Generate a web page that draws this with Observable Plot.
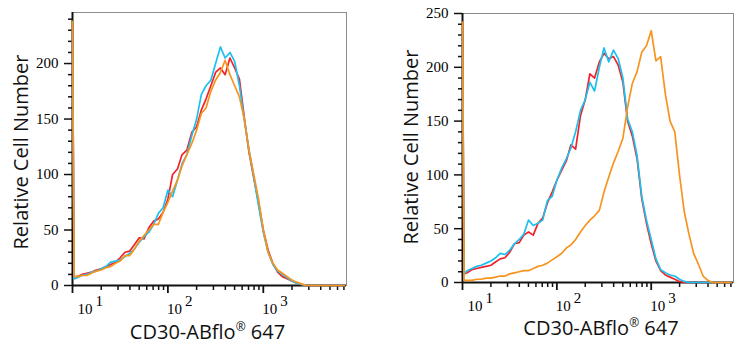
<!DOCTYPE html>
<html><head><meta charset="utf-8">
<script src="https://cdn.jsdelivr.net/npm/d3@7"></script>
<script src="https://cdn.jsdelivr.net/npm/@observablehq/plot@0.6"></script>
<style>
body{margin:0;background:#fff;}
#wrap{display:flex;width:745px;height:350px;overflow:hidden;}
svg{overflow:visible;}
</style></head><body><div id="wrap"></div>
<script>
// Fluorescence bins (x values, log scale)
const bins = [10, 10.4, 11.2, 12.6, 14.1, 15.8, 17.8, 20, 22.4, 25.1, 28.2, 31.6, 35.5, 39.8, 44.7, 50.1, 56.2, 63.1, 70.8, 79.4, 89.1,
  100, 112, 126, 141, 158, 178, 200, 224, 251, 282, 316, 355, 398, 447, 501, 562, 631, 708, 794, 891,
  1000, 1122, 1259, 1413, 1585, 1778, 1995, 2239, 2512, 2818, 3162, 3548, 3981, 4467, 5012, 5623, 6310, 7079];

// Left panel counts
const leftRed = [230, 8, 8, 10, 11, 12, 14, 15, 17, 19, 21, 25, 30, 31, 37, 43, 42, 52, 58, 60, 66,
  78, 100, 105, 118, 122, 138, 143, 158, 168, 180, 192, 196, 190, 205, 196, 186, 152, 120, 97, 75,
  50, 32, 20, 12, 8, 6, 4, 2, 1, 0, 0, 0, 0, 0, 0, 0, 0, 0];
const leftBlue = [230, 6, 7, 9, 10, 12, 13, 15, 17, 21, 22, 23, 26, 29, 33, 39, 44, 48, 55, 65, 70,
  86, 80, 95, 110, 118, 135, 150, 172, 180, 185, 200, 215, 205, 210, 202, 180, 150, 122, 98, 72,
  48, 30, 19, 13, 10, 7, 4, 2, 1, 0, 0, 0, 0, 0, 0, 0, 0, 0];
const leftOrange = [238, 8, 8, 9, 9, 11, 13, 14, 16, 17, 20, 22, 27, 27, 33, 40, 45, 50, 55, 55, 66,
  75, 85, 95, 108, 118, 128, 140, 155, 160, 175, 185, 192, 203, 190, 180, 170, 150, 122, 100, 78,
  50, 30, 20, 14, 11, 8, 5, 3, 1.5, 0, 0, 0, 0, 0, 0, 0, 0, 0];

// Right panel counts
const rightRed = [230, 8, 9, 12, 13, 14, 15, 16, 19, 22, 23, 28, 36, 37, 44, 47, 44, 55, 60, 74, 84,
  95, 104, 113, 128, 124, 155, 170, 194, 190, 205, 213, 208, 210, 202, 186, 150, 136, 115, 78, 55,
  36, 20, 11, 7, 5, 3, 1, 0, 0, 0, 0, 0, 0, 0, 0, 0, 0, 0];
const rightBlue = [230, 8, 11, 13, 15, 16, 18, 20, 23, 27, 26, 30, 36, 40, 45, 58, 53, 55, 58, 76, 80,
  95, 106, 115, 125, 140, 160, 170, 186, 178, 200, 218, 205, 216, 208, 190, 152, 140, 118, 80, 58,
  40, 22, 12, 9, 7, 6, 3, 1, 0, 0, 0, 0, 0, 0, 0, 0, 0, 0];
const rightOrange = [242, 2, 2, 2, 3, 3, 4, 4, 5, 6, 6, 8, 9, 10, 11, 11, 13, 15, 16, 18, 21,
  24, 27, 32, 35, 40, 47, 53, 58, 62, 67, 84, 98, 111, 122, 134, 163, 185, 196, 214, 220,
  234, 206, 210, 175, 150, 140, 100, 66, 45, 27, 17, 6, 2, 0, 0, 0, 0, 0];

const seriesNames = ["Red", "Blue", "Orange"];
const seriesColors = ["#f2222b", "#1cc0ef", "#f7941e"];

const xMajor = [10, 100, 1000];
const xExponents = ["1", "2", "3"];
const xMinor = [20, 30, 40, 50, 60, 70, 80, 90, 200, 300, 400, 500, 600, 700, 800, 900, 2000, 3000, 4000, 5000, 6000, 7000];
const yMajorLeft = [0, 50, 100, 150, 200];
const yMinorLeft = [10, 20, 30, 40, 60, 70, 80, 90, 110, 120, 130, 140, 160, 170, 180, 190, 210, 220, 230, 240];
const yMajorRight = [0, 50, 100, 150, 200, 250];
const yMinorRight = [10, 20, 30, 40, 60, 70, 80, 90, 110, 120, 130, 140, 160, 170, 180, 190, 210, 220, 230, 240];

const xTitle = "CD30-ABflo® 647";
const yTitle = "Relative Cell Number";

const SERIF = "'Liberation Serif', Tinos, 'Times New Roman', 'DejaVu Serif', serif";
const SANS = "'Open Sans', 'Noto Sans', 'DejaVu Sans', sans-serif";

function rows(vals) { return bins.map((b, i) => ({x: b, y: vals[i]})); }

function panel(o) {
  const labels = xMajor.map((v, i) => ({v, e: xExponents[i]}));
  const first = labels.slice(0, 1), rest = labels.slice(1);
  const lab = (data, dx) => [
    Plot.text(data, {x: "v", frameAnchor: "bottom", text: () => "10", textAnchor: "start", lineAnchor: "bottom", dx: dx, dy: 28, fontFamily: SERIF, fontSize: 15, fill: "#000"}),
    Plot.text(data, {x: "v", frameAnchor: "bottom", text: "e", textAnchor: "start", lineAnchor: "bottom", dx: dx + 18, dy: 20, fontFamily: SERIF, fontSize: 15, fill: "#000"})
  ];
  const svg = Plot.plot({
    width: o.width, height: 350,
    marginLeft: o.ml, marginRight: o.mr, marginTop: o.mt, marginBottom: o.mb,
    x: {type: "log", domain: [10, 7450], axis: null},
    y: {domain: [0, o.yMax], axis: null},
    style: {fontFamily: SERIF, fontSize: "15px", background: "white", color: "#000"},
    marks: [
      Plot.frame({stroke: "#8c8c8c", strokeWidth: 1}),
      Plot.axisY(o.yMinor, {tickSize: 4, tickFormat: () => "", label: null, stroke: "#111", strokeWidth: 1.5}),
      Plot.axisY(o.yMajor, {tickSize: 8, tickPadding: 6, label: null, stroke: "#111", strokeWidth: 1.5, fontSize: 15, fontFamily: SERIF, fill: "#000"}),
      Plot.axisX(xMinor, {tickSize: 5, tickFormat: () => "", label: null, stroke: "#111", strokeWidth: 1.5}),
      Plot.axisX(xMajor, {tickSize: 8, tickFormat: () => "", label: null, stroke: "#111", strokeWidth: 1.8}),
      Plot.ruleY([0], {stroke: "#111", strokeWidth: 2}),
      Plot.ruleX([10], {stroke: "#111", strokeWidth: 2}),
      ...o.series.map((s, i) => Plot.line(rows(s), {x: "x", y: "y", stroke: seriesColors[i], strokeWidth: 1.7, strokeLinejoin: "round"})),
      ...lab(first, 5), ...lab(rest, -1),
      Plot.text([xTitle], {text: d => d, frameAnchor: "bottom", textAnchor: "middle", lineAnchor: "bottom", dx: o.xdx, dy: o.xdy, fontFamily: SANS, fontSize: 20, fill: "#111"}),
      Plot.text([yTitle], {text: d => d, frameAnchor: "left", textAnchor: "middle", rotate: -90, lineAnchor: "bottom", dx: -45, dy: o.ydy, fontFamily: SANS, fontSize: 20, fill: "#111"})
    ]
  });
  d3.select(svg).selectAll("text").filter(function () { return this.textContent === xTitle; }).each(function () {
    const t = d3.select(this);
    const parts = xTitle.split("®");
    t.text(null);
    t.append("tspan").text(parts[0]);
    t.append("tspan").attr("font-size", 12).attr("dy", -8).text("®");
    t.append("tspan").attr("dy", 8).text(parts[1]);
  });
  return svg;
}

const wrap = document.getElementById("wrap");
wrap.appendChild(panel({width: 372, ml: 72, mr: 26, mt: 12, mb: 65, yMax: 246, yMajor: yMajorLeft, yMinor: yMinorLeft,
  series: [leftRed, leftBlue, leftOrange], xdx: -2, xdy: 53, ydy: 3}));
wrap.appendChild(panel({width: 373, ml: 90, mr: 12, mt: 13, mb: 68, yMax: 250, yMajor: yMajorRight, yMinor: yMinorRight,
  series: [rightRed, rightBlue, rightOrange], xdx: 3, xdy: 52, ydy: -1}));
</script></body></html>
